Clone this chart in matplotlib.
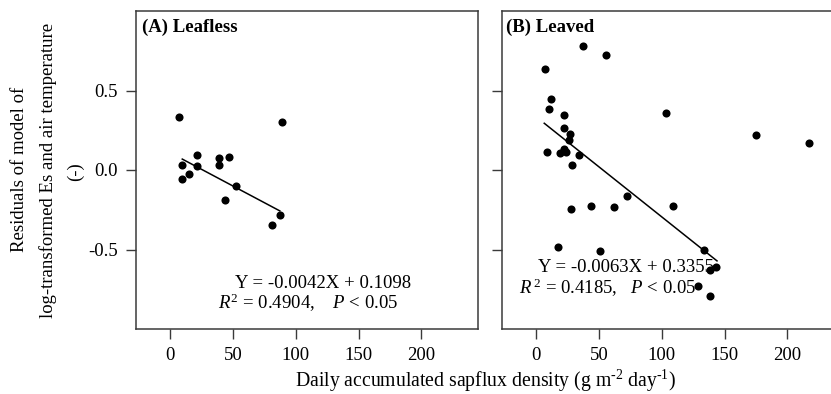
import matplotlib
matplotlib.use("Agg")
import matplotlib.pyplot as plt
import numpy as np

plt.rcParams['font.family'] = ['Liberation Serif', 'DejaVu Serif']
plt.rcParams['mathtext.fontset'] = 'custom'
plt.rcParams['mathtext.rm'] = 'Liberation Serif'
plt.rcParams['mathtext.it'] = 'Liberation Serif:italic'
plt.rcParams['mathtext.bf'] = 'Liberation Serif:bold'

# ---- data ----
leafless_x = [6.9, 88.8, 21.7, 38.7, 47.2, 9.8, 21.7, 39.2, 15.1, 9.8, 52.5, 43.7, 87.4, 80.8]
leafless_y = [0.333, 0.301, 0.096, 0.077, 0.082, 0.029, 0.023, 0.033, -0.023, -0.059, -0.103, -0.190, -0.285, -0.343]
leafless_slope, leafless_icpt = -0.0042, 0.1098
leafless_fit_range = [9.8, 87.4]

leaved_x = [37.7, 55.5, 7.2, 12.2, 10.1, 22.3, 103.1, 22.3, 26.8, 26.0, 174.9, 216.9, 8.8, 18.8,
            22.7, 23.9, 34.5, 28.4, 72.6, 43.9, 62.2, 109.2, 28.1, 17.8, 51.0, 133.4, 143.5,
            138.2, 129.2, 138.8]
leaved_y = [0.780, 0.726, 0.638, 0.444, 0.381, 0.349, 0.358, 0.262, 0.228, 0.188, 0.220, 0.169,
            0.111, 0.105, 0.130, 0.113, 0.094, 0.033, -0.165, -0.224, -0.232, -0.226, -0.247,
            -0.485, -0.510, -0.506, -0.607, -0.632, -0.728, -0.795]
leaved_slope, leaved_icpt = -0.0063, 0.3355
leaved_fit_range = [6.6, 144.0]

xticks = [0, 50, 100, 150, 200]
yticks = [-0.5, 0.0, 0.5]
ytick_labels = ["-0.5", "0.0", "0.5"]

W, H = 831, 394
fig = plt.figure(figsize=(W / 100, H / 100), dpi=100)

def px_axes(l, t, r, b):
    return [l / W, (H - b) / H, (r - l) / W, (b - t) / H]

axA = fig.add_axes(px_axes(136, 11, 478, 329))
axB = fig.add_axes(px_axes(502, 11, 844, 329))

spine_col = '#3a3a3a'
fs = 13.5

def style(ax, show_ylabels):
    ax.set_xlim(-27, 245)
    ax.set_ylim(-1.0, 1.0)
    ax.set_xticks(xticks)
    ax.set_xticklabels([str(t) for t in xticks])
    ax.set_yticks(yticks)
    if show_ylabels:
        ax.set_yticklabels(ytick_labels)
    else:
        ax.set_yticklabels([])
    for s in ax.spines.values():
        s.set_color(spine_col)
        s.set_linewidth(1.1)
    ax.tick_params(direction='out', length=7, width=1.0, color=spine_col,
                   labelsize=fs, pad=6)

for ax, xs, ys, sl, ic, fr, show in [
    (axA, leafless_x, leafless_y, leafless_slope, leafless_icpt, leafless_fit_range, True),
    (axB, leaved_x, leaved_y, leaved_slope, leaved_icpt, leaved_fit_range, False),
]:
    ax.scatter(xs, ys, s=34, color='black', zorder=3, linewidths=0)
    fx = np.array(fr)
    ax.plot(fx, sl * fx + ic, color='black', lw=1.1, zorder=2)
    style(ax, show)

axB.spines['right'].set_visible(False)

axA.text(0.017, 0.95, "(A) Leafless", transform=axA.transAxes, fontsize=fs,
         fontweight='bold', ha='left', va='center')
axB.text(0.012, 0.95, "(B) Leaved", transform=axB.transAxes, fontsize=fs,
         fontweight='bold', ha='left', va='center')

axA.text(121.6, -0.711, "Y = -0.0042X + 0.1098", fontsize=fs, ha='center', va='center')
axA.text(109.7, -0.836, r"$\it{R}^{2}$ = 0.4904,    $\it{P}$ < 0.05", fontsize=fs,
         ha='center', va='center')
axB.text(72, -0.616, "Y = -0.0063X + 0.3355", fontsize=fs, ha='center', va='center')
axB.text(57, -0.742, r"$\it{R}^{\,2}$ = 0.4185,   $\it{P}$ < 0.05", fontsize=fs,
         ha='center', va='center')

fig.text(485 / W, 1 - 381 / H,
         r"Daily accumulated sapflux density (g m$^{\text{-2}}$ day$^{\text{-1}}$)",
         fontsize=14.2, ha='center', va='center')

fig.text(20 / W, 1 - 169 / H, "Residuals of model of", rotation=90, fontsize=fs,
         ha='center', va='center')
fig.text(48 / W, 1 - 170 / H, "log-transformed Es and air temperature", rotation=90,
         fontsize=fs, ha='center', va='center')
fig.text(75 / W, 1 - 172 / H, "(-)", rotation=90, fontsize=fs, ha='center', va='center')

fig.savefig("out.png", dpi=100)
